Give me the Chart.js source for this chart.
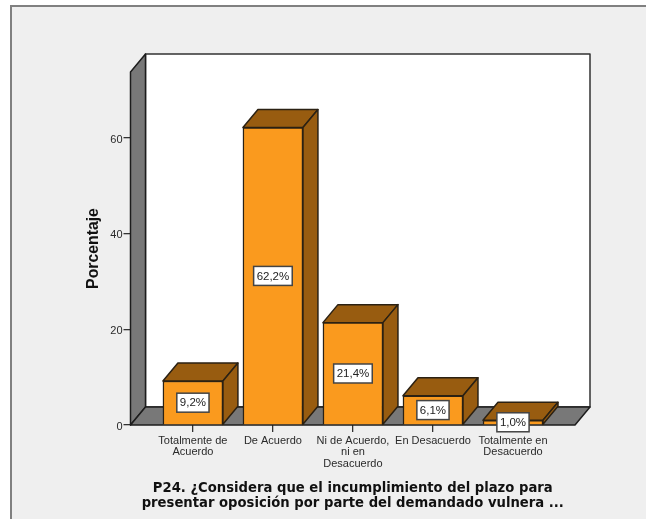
<!DOCTYPE html>
<html><head><meta charset="utf-8">
<style>
html,body{margin:0;padding:0;background:#fff;width:646px;height:519px;overflow:hidden}
#frame{position:absolute;left:10px;top:5px;width:636px;height:514px;background:#efefef;border-left:2px solid #808080;border-top:2px solid #808080;box-sizing:border-box}
canvas{position:absolute;left:0;top:0}
</style>
<script src="https://cdn.jsdelivr.net/npm/chart.js@4"></script>
</head><body>
<div id="frame"></div>
<canvas id="c" width="646" height="519"></canvas>
<script>
const categories = [
  ["Totalmente de","Acuerdo"],
  ["De Acuerdo"],
  ["Ni de Acuerdo,","ni en","Desacuerdo"],
  ["En Desacuerdo"],
  ["Totalmente en","Desacuerdo"]
];
const values = [9.2, 62.2, 21.4, 6.1, 1.0];
const valueLabels = ["9,2%","62,2%","21,4%","6,1%","1,0%"];
const yTicks = [0, 20, 40, 60];
const yTitle = "Porcentaje";
const xTitle = ["P24. ¿Considera que el incumplimiento del plazo para","presentar oposición por parte del demandado vulnera ..."];

const DX = 15, DY = -18;
const OUTLINE = "#2b2113";
function poly(ctx, pts, fill, stroke, lw){
  ctx.beginPath();
  pts.forEach((p,i)=> i?ctx.lineTo(p[0],p[1]):ctx.moveTo(p[0],p[1]));
  ctx.closePath();
  ctx.fillStyle = fill; ctx.fill();
  ctx.lineJoin = "round";
  ctx.strokeStyle = stroke; ctx.lineWidth = lw; ctx.stroke();
}
const box3d = {
  id:"box3d",
  beforeDatasetsDraw(chart){
    const {ctx, chartArea:a} = chart;
    ctx.save();
    poly(ctx,[[a.left+DX,a.top+DY],[a.right+DX,a.top+DY],[a.right+DX,a.bottom+DY],[a.left+DX,a.bottom+DY]],"#ffffff","#333333",1.5);
    poly(ctx,[[a.left,a.top],[a.left+DX,a.top+DY],[a.left+DX,a.bottom+DY],[a.left,a.bottom]],"#787878","#1c1c1c",1.5);
    poly(ctx,[[a.left,a.bottom],[a.right,a.bottom],[a.right+DX,a.bottom+DY],[a.left+DX,a.bottom+DY]],"#787878","#1c1c1c",1.5);
    chart.getDatasetMeta(0).data.forEach(b=>{
      const l=b.x-b.width/2, r=b.x+b.width/2, t=b.y, bt=b.base;
      poly(ctx,[[l,t],[r,t],[r+DX,t+DY],[l+DX,t+DY]],"#985c10",OUTLINE,1.5);
      poly(ctx,[[r,t],[r+DX,t+DY],[r+DX,bt+DY],[r,bt]],"#985c10",OUTLINE,1.5);
    });
    ctx.restore();
  },
  afterDatasetsDraw(chart){
    const {ctx} = chart;
    ctx.save();
    ctx.font = "11.5px 'Liberation Sans'";
    ctx.textAlign = "center"; ctx.textBaseline = "middle";
    chart.getDatasetMeta(0).data.forEach((b,i)=>{
      const cy=(b.y+b.base)/2, w=ctx.measureText(valueLabels[i]).width+6, h=19;
      ctx.fillStyle="#fff"; ctx.fillRect(b.x-w/2,cy-h/2,w,h);
      ctx.strokeStyle="#444444"; ctx.lineWidth=1.5; ctx.strokeRect(b.x-w/2,cy-h/2,w,h);
      ctx.fillStyle="#222"; ctx.fillText(valueLabels[i],b.x,cy+0.5);
    });
    ctx.restore();
  }
};

new Chart(document.getElementById("c"),{
  type:"bar",
  data:{datasets:[{
    data:values.map((v,i)=>({x:i,y:v})),
    backgroundColor:"#fa9a1e",
    borderColor:OUTLINE,
    borderWidth:1.5,
    barThickness:60
  }]},
  options:{
    responsive:false, animation:false,
    layout:{padding:{left:0,top:72,right:71,bottom:0}},
    plugins:{legend:{display:false},title:{display:false},tooltip:{enabled:false}},
    scales:{
      x:{
        type:"linear", min:-0.78, max:4.775, offset:false,
        afterFit(s){ s.height = 94; },
        afterBuildTicks(s){ s.ticks = categories.map((_,i)=>({value:i})); },
        grid:{offset:false,drawOnChartArea:false,drawTicks:true,tickLength:7,color:"#333333",lineWidth:1.3},
        border:{display:false},
        ticks:{
          autoSkip:false,maxRotation:0,minRotation:0,padding:3,color:"#2a2a2a",
          font:{family:"'Liberation Sans'",size:11,lineHeight:1.05},
          callback(v){ return categories[v]; }
        },
        title:{display:true,text:xTitle,color:"#111",
          font:{family:"'DejaVu Sans'",size:13.2,weight:"bold",lineHeight:1.14},
          padding:{top:0,bottom:8}}
      },
      y:{
        min:0,max:73.8,
        afterFit(s){ s.width = 130.5; },
        afterBuildTicks(s){ s.ticks = yTicks.map(v=>({value:v})); },
        grid:{drawOnChartArea:false,drawTicks:true,tickLength:7,color:"#333333",lineWidth:1.3},
        border:{display:false},
        ticks:{padding:1,labelOffset:1.5,color:"#2a2a2a",font:{family:"'Liberation Sans'",size:11}},
        title:{display:true,text:yTitle,color:"#111",
          font:{family:"'Liberation Sans'",size:15.8,weight:"bold",lineHeight:1.2},
          padding:{top:84,bottom:0}}
      }
    }
  },
  plugins:[box3d]
});
</script>
</body></html>
